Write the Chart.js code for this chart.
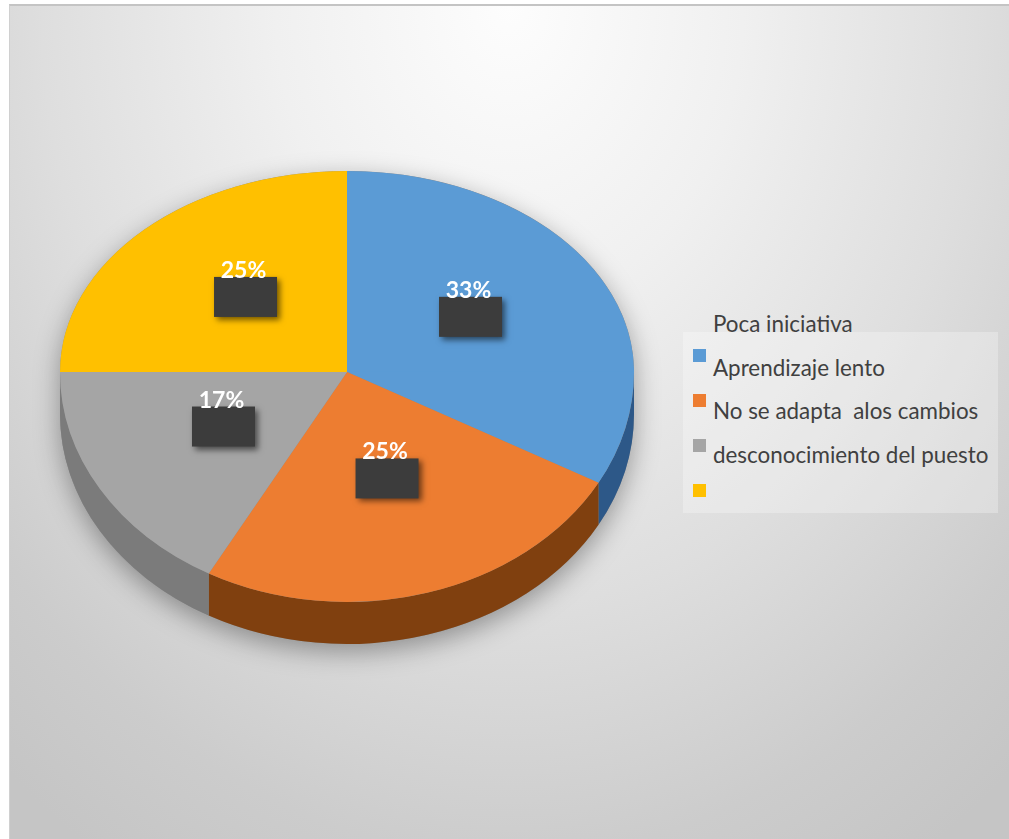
<!DOCTYPE html>
<html>
<head>
<meta charset="utf-8">
<script src="https://cdn.jsdelivr.net/npm/chart.js@4/dist/chart.umd.min.js"></script>
<style>
    body { margin: 0; width: 1009px; height: 839px; overflow: hidden; background: #fff; font-family: Lato, "Open Sans", sans-serif; }
    #frame {
        position: absolute; left: 9px; top: 4px; width: 1000px; height: 835px;
        box-sizing: border-box;
        border-top: 2px solid #c4c4c4; border-left: 1px solid #d0d0d0;
        background: radial-gradient(ellipse 78% 120% at 50% 0%, #fdfdfd 0%, #f0f0f0 30%, #dedede 60%, #cccccc 85%, #c5c5c5 100%);
    }
    #chart { position: absolute; left: 9px; top: 4px; }
    #legend-box {
        position: absolute; left: 683px; top: 332px; width: 315px; height: 181px;
        background: rgba(255, 255, 255, 0.28);
    }
    .legend-text { position: absolute; left: 713px; font-size: 22.4px; line-height: 26px; color: #404040; white-space: pre; }
    .legend-swatch { position: absolute; left: 693px; width: 13px; height: 13px; }
</style>
</head>
<body>
<div id="frame"></div>
<div id="legend-box"></div>
<div id="legend"></div>
<canvas id="chart" width="1000" height="835"></canvas>
<script>
// Chart data
const categories = ['Poca iniciativa', 'Aprendizaje lento', 'No se adapta  alos cambios', 'desconocimiento del puesto'];
const percentages = [33, 25, 17, 25];
const sliceColors = ['#5b9bd5', '#ed7d31', '#a5a5a5', '#ffc000'];
const sideColors = ['#2d5888', '#80400f', '#7b7b7b', '#a67c00'];

// 3D look: top half / bottom half squash and wall height
const TILT_TOP = 201 / 287;
const TILT_BOTTOM = 230 / 287;
const DEPTH = 42;

function pieGeometry(chart) {
    const arcs = chart.getDatasetMeta(0).data;
    const p = arcs[0].getProps(['x', 'y', 'outerRadius'], true);
    return { arcs, cx: p.x, cy: p.y, r: p.outerRadius };
}

const pie3d = {
    id: 'pie3d',
    beforeDatasetsDraw(chart) {
        const ctx = chart.ctx;
        const { arcs, cx, cy, r } = pieGeometry(chart);

        // soft drop shadow under the whole disc
        ctx.save();
        ctx.beginPath();
        ctx.ellipse(cx, cy, r, r * TILT_TOP, 0, Math.PI, 2 * Math.PI);
        ctx.ellipse(cx, cy + DEPTH, r, r * TILT_BOTTOM, 0, 0, Math.PI);
        ctx.closePath();
        ctx.shadowColor = 'rgba(0,0,0,0.35)';
        ctx.shadowBlur = 26;
        ctx.shadowOffsetY = 8;
        ctx.fillStyle = '#8a8a8a';
        ctx.fill();
        ctx.restore();

        // side walls, only the front half is visible
        arcs.forEach((arc, i) => {
            const { startAngle, endAngle } = arc.getProps(['startAngle', 'endAngle'], true);
            [-2 * Math.PI, 0, 2 * Math.PI].forEach(k => {
                const lo = Math.max(startAngle, k);
                const hi = Math.min(endAngle, k + Math.PI);
                if (hi <= lo) return;
                const a0 = lo - k, a1 = hi - k;
                ctx.save();
                ctx.beginPath();
                ctx.ellipse(cx, cy, r, r * TILT_BOTTOM, 0, a0, a1);
                ctx.ellipse(cx, cy + DEPTH, r, r * TILT_BOTTOM, 0, a1, a0, true);
                ctx.closePath();
                ctx.fillStyle = sideColors[i];
                ctx.fill();
                ctx.restore();
            });
        });

        // top face, upper half: the library draws it under this transform
        ctx.save();
        ctx.beginPath();
        ctx.rect(0, 0, chart.width, cy + 0.5);
        ctx.clip();
        ctx.translate(0, cy);
        ctx.scale(1, TILT_TOP);
        ctx.translate(0, -cy);
    },
    afterDatasetsDraw(chart) {
        const ctx = chart.ctx;
        ctx.restore();
        const { arcs, cx, cy, r } = pieGeometry(chart);

        // top face, lower half
        ctx.save();
        ctx.beginPath();
        ctx.rect(0, cy - 0.5, chart.width, chart.height - cy);
        ctx.clip();
        ctx.translate(0, cy);
        ctx.scale(1, TILT_BOTTOM);
        ctx.translate(0, -cy);
        arcs.forEach(arc => arc.draw(ctx));
        ctx.restore();

        // data labels: dark box with the percentage on top
        arcs.forEach((arc, i) => {
            const p = arc.tooltipPosition(true);
            const dy = p.y - cy;
            const y = cy + dy * (dy < 0 ? TILT_TOP : TILT_BOTTOM) - 4;
            const bw = 63, bh = 40;
            ctx.save();
            ctx.shadowColor = 'rgba(0,0,0,0.55)';
            ctx.shadowBlur = 6;
            ctx.shadowOffsetX = 3;
            ctx.shadowOffsetY = 3;
            ctx.fillStyle = '#3c3c3c';
            ctx.fillRect(p.x - bw / 2, y - bh / 2, bw, bh);
            ctx.restore();

            ctx.save();
            ctx.fillStyle = '#ffffff';
            ctx.font = 'bold 23px Lato, "Open Sans", sans-serif';
            ctx.textAlign = 'center';
            ctx.textBaseline = 'alphabetic';
            ctx.fillText(percentages[i] + '%', p.x - 2, y - bh / 2 + 1);
            ctx.restore();
        });
    }
};

new Chart(document.getElementById('chart'), {
    type: 'pie',
    data: {
        labels: categories,
        datasets: [{
            data: percentages,
            backgroundColor: sliceColors,
            borderWidth: 0
        }]
    },
    options: {
        responsive: false,
        animation: false,
        layout: {
            padding: { left: 51, right: 375, top: 81, bottom: 180 }
        },
        plugins: {
            legend: { display: false },
            tooltip: { enabled: false }
        }
    },
    plugins: [pie3d]
});

// Legend: each name sits on its own line with the colour square below it
const legend = document.getElementById('legend');
categories.forEach((name, i) => {
    const text = document.createElement('div');
    text.className = 'legend-text';
    text.style.top = (311 + 43.5 * i) + 'px';
    text.textContent = name;
    legend.appendChild(text);

    const swatch = document.createElement('div');
    swatch.className = 'legend-swatch';
    swatch.style.top = (349 + 45 * i) + 'px';
    swatch.style.background = sliceColors[i];
    legend.appendChild(swatch);
});
</script>
</body>
</html>
